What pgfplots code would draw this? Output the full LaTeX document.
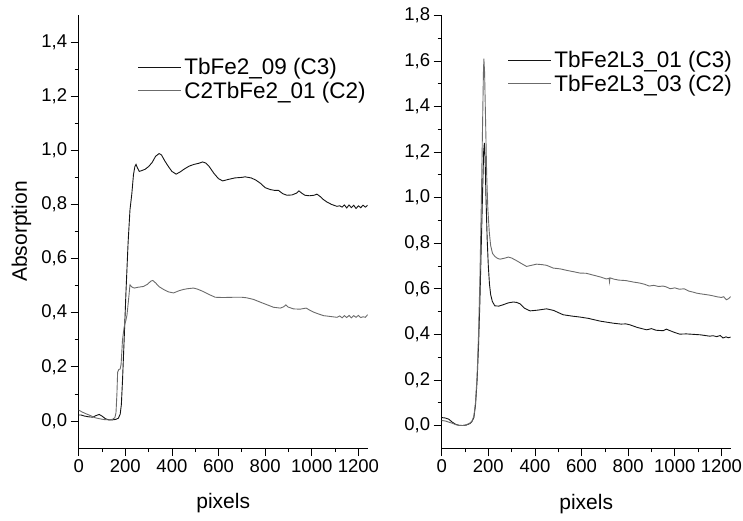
\documentclass[border=0pt]{standalone}
\usepackage{fontspec}
\setmainfont{Liberation Sans}
\usepackage{pgfplots}
\pgfplotsset{compat=1.18}
\definecolor{cthree}{gray}{0.08}
\definecolor{ctwo}{gray}{0.42}
\newcommand{\legfont}{\fontsize{22.5}{24}\selectfont}
\pgfplotsset{
  myaxis/.style={
    scale only axis, width=289pt, height=433pt,
    axis lines=left,
    axis line style={-, line width=0.8pt, black},
    xmin=0, xmax=1240, ymin=-0.1,
    xtick={0,200,400,600,800,1000,1200},
    minor x tick num=1, minor y tick num=1,
    tick align=outside, major tick length=8pt, minor tick length=4pt,
    tick style={black, line width=0.7pt},
    /pgf/number format/assume math mode=true,
    ticklabel style={font=\fontsize{18.5}{21}\selectfont},
    yticklabel style={/pgf/number format/.cd, use comma, fixed, fixed zerofill, precision=1},
    xticklabel style={/pgf/number format/1000 sep={}},
    label style={font=\fontsize{21}{23}\selectfont},
    xlabel style={at={(axis description cs:0.5,-0.128)}, anchor=center},
    legend cell align=left,
    legend image code/.code={\draw[#1] (0pt,0pt) -- (43pt,0pt);},
  }
}
\begin{document}
\begin{tikzpicture}
\useasboundingbox (0,0) rectangle (743pt,520pt);
\begin{axis}[myaxis, at={(78.7pt,72pt)}, anchor=south west,
  ymax=1.5, ytick={0,0.2,0.4,0.6,0.8,1.0,1.2,1.4},
  xlabel={pixels}, ylabel={Absorption},
  ylabel style={at={(axis description cs:-0.198,0.5)}, anchor=center},
  legend style={draw=none, fill=none, font=\legfont, inner sep=0pt, outer sep=0pt,
    row sep=1pt, nodes={inner sep=2.5pt},
    at={(rel axis cs:0.205,0.906)}, anchor=north west}]
\addplot[cthree, line width=0.9pt] coordinates {
(0,0.022) (10,0.022) (25,0.018) (45,0.015) (60,0.014) (75,0.02) (88,0.024) (100,0.018)
(115,0.008) (130,0.004) (145,0.004) (160,0.006) (170,0.01) (178,0.025) (183,0.06)
(188,0.15) (195,0.30) (203,0.48) (212,0.66) (220,0.78) (228,0.84) (235,0.91) (241,0.94)
(246,0.948) (252,0.935) (260,0.922) (270,0.925) (285,0.93) (300,0.94) (315,0.955)
(330,0.978) (345,0.988) (355,0.983) (370,0.96) (385,0.94) (400,0.922) (418,0.912)
(435,0.92) (455,0.932) (475,0.942) (495,0.948) (515,0.952) (532,0.957) (545,0.953)
(560,0.94) (580,0.915) (600,0.895) (618,0.887) (640,0.892) (670,0.898) (700,0.9)
(714,0.902) (740,0.898) (760,0.89) (780,0.878) (800,0.862) (822,0.855) (840,0.852)
(857,0.852) (875,0.84) (893,0.834) (915,0.835) (935,0.842) (945,0.85) (955,0.843)
(970,0.834) (990,0.832) (1010,0.834) (1022,0.838) (1035,0.83) (1050,0.818) (1065,0.809)
(1085,0.8) (1108,0.793) (1120,0.795) (1130,0.79) (1140,0.798) (1150,0.787) (1160,0.798)
(1170,0.788) (1180,0.797) (1190,0.785) (1200,0.795) (1210,0.788) (1220,0.797) (1230,0.79)
(1240,0.797)};
\addlegendentry{TbFe2\_09 (C3)}
\addplot[ctwo, line width=0.9pt] coordinates {
(0,0.04) (15,0.033) (30,0.027) (50,0.02) (70,0.012) (90,0.008) (110,0.005) (130,0.004)
(145,0.006) (155,0.012) (160,0.03) (164,0.1) (167,0.18) (172,0.19) (178,0.192) (182,0.21)
(188,0.3) (195,0.347) (202,0.37) (207,0.39) (213,0.44) (220,0.503) (228,0.495) (238,0.491)
(255,0.494) (278,0.497) (295,0.505) (310,0.517) (318,0.519) (330,0.51) (345,0.496)
(364,0.486) (385,0.477) (407,0.473) (430,0.481) (450,0.486) (470,0.489) (493,0.491)
(510,0.487) (535,0.478) (560,0.467) (586,0.457) (620,0.456) (664,0.457) (700,0.457)
(721,0.455) (750,0.449) (779,0.439) (800,0.432) (836,0.42) (865,0.417) (880,0.422)
(889,0.429) (898,0.421) (922,0.414) (950,0.413) (976,0.417) (990,0.41) (1008,0.402)
(1030,0.395) (1051,0.389) (1080,0.386) (1108,0.383) (1120,0.388) (1130,0.381) (1140,0.389)
(1150,0.382) (1160,0.39) (1170,0.381) (1180,0.389) (1190,0.383) (1200,0.39) (1210,0.382)
(1220,0.385) (1230,0.383) (1240,0.393)};
\addlegendentry{C2TbFe2\_01 (C2)}
\end{axis}
\begin{axis}[myaxis, at={(441.7pt,71.7pt)}, anchor=south west,
  ymax=1.8, ytick={0,0.2,0.4,0.6,0.8,1.0,1.2,1.4,1.6,1.8},
  xlabel={pixels},
  legend style={draw=none, fill=none, font=\legfont, inner sep=0pt, outer sep=0pt,
    row sep=1pt, nodes={inner sep=2.5pt},
    at={(rel axis cs:0.229,0.923)}, anchor=north west}]
\addplot[cthree, line width=0.9pt] coordinates {
(0,0.035) (15,0.033) (30,0.028) (45,0.015) (60,0.005) (75,0.001) (90,0.0) (105,0.002)
(120,0.008) (130,0.018) (138,0.035) (145,0.09) (152,0.2) (158,0.35) (164,0.55) (170,0.8)
(176,1.05) (180,1.2) (183,1.24) (186,1.18) (190,1.0) (195,0.82) (200,0.7) (205,0.62)
(210,0.575) (217,0.545) (228,0.525) (245,0.524) (264,0.53) (285,0.538) (307,0.542)
(322,0.54) (336,0.534) (355,0.515) (379,0.503) (410,0.506) (450,0.512) (480,0.505)
(521,0.486) (560,0.48) (593,0.476) (630,0.47) (680,0.458) (736,0.449) (770,0.445)
(790,0.446) (807,0.442) (840,0.43) (879,0.42) (900,0.425) (920,0.418) (950,0.416)
(964,0.423) (975,0.418) (1000,0.408) (1021,0.401) (1050,0.402) (1080,0.4) (1110,0.398)
(1130,0.395) (1150,0.392) (1164,0.394) (1180,0.39) (1195,0.395) (1207,0.384) (1220,0.389)
(1230,0.385) (1240,0.388)};
\addlegendentry{TbFe2L3\_01 (C3)}
\addplot[ctwo, line width=0.9pt] coordinates {
(0,0.022) (15,0.02) (30,0.015) (45,0.01) (60,0.004) (75,0.0) (90,0.0) (105,0.003)
(120,0.01) (130,0.02) (138,0.04) (145,0.1) (152,0.22) (158,0.4) (164,0.65) (170,0.98)
(175,1.3) (179,1.55) (181,1.61) (184,1.55) (188,1.35) (193,1.1) (198,0.95) (204,0.85)
(210,0.79) (218,0.755) (228,0.742) (240,0.733) (250,0.73) (265,0.733) (286,0.739)
(300,0.735) (320,0.724) (340,0.712) (364,0.698) (385,0.703) (407,0.708) (430,0.706)
(450,0.703) (478,0.691) (510,0.687) (540,0.68) (570,0.674) (593,0.669) (620,0.668)
(650,0.66) (680,0.652) (707,0.643) (718,0.646) (720,0.63) (722,0.648) (740,0.642)
(760,0.638) (790,0.636) (820,0.63) (850,0.625) (870,0.62) (890,0.612) (910,0.615)
(930,0.61) (950,0.612) (964,0.608) (980,0.6) (1000,0.604) (1020,0.598) (1040,0.6)
(1060,0.59) (1080,0.585) (1093,0.581) (1110,0.578) (1130,0.575) (1150,0.572) (1164,0.569)
(1180,0.565) (1200,0.562) (1210,0.565) (1221,0.552) (1230,0.556) (1240,0.566)};
\addlegendentry{TbFe2L3\_03 (C2)}
\end{axis}
\end{tikzpicture}
\end{document}
